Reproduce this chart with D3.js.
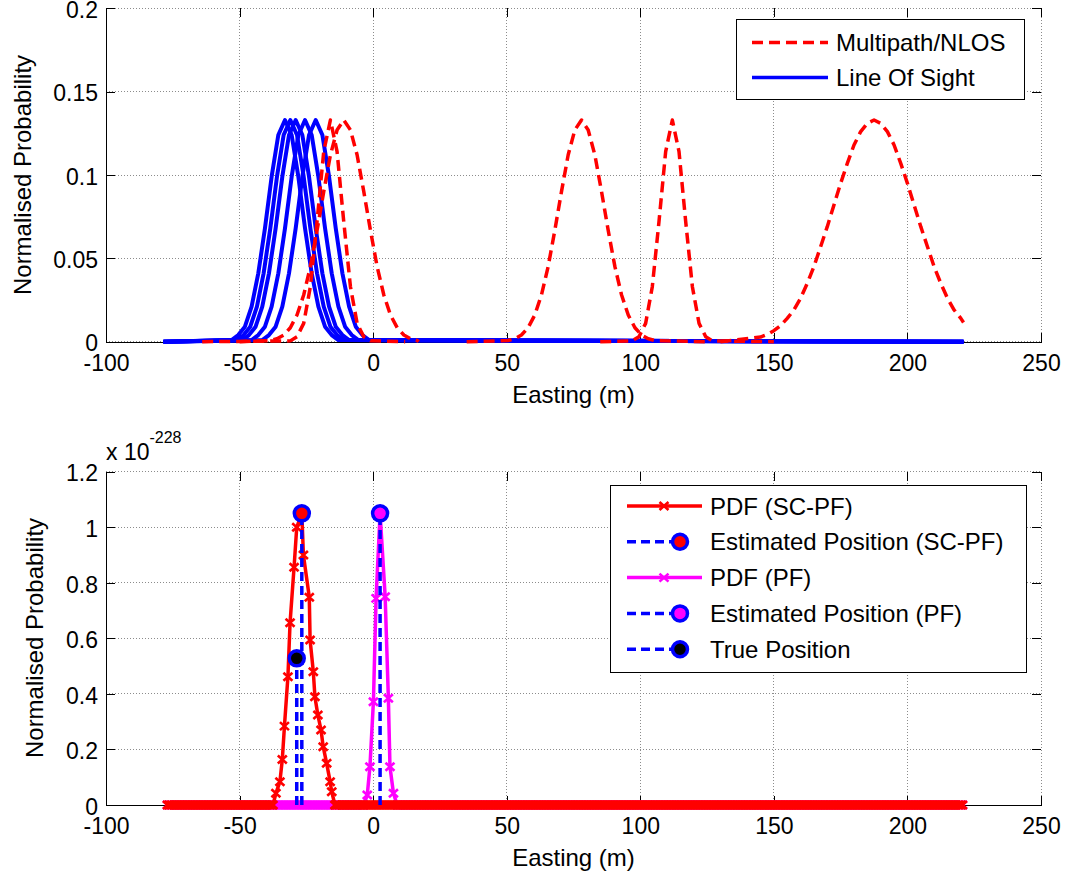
<!DOCTYPE html>
<html>
<head>
<meta charset="utf-8">
<script src="https://cdn.jsdelivr.net/npm/d3@7.9.0/dist/d3.min.js"></script>
<style>
  body { margin: 0; background: #fff; }
  svg { display: block; font-family: "Liberation Sans", Arial, Helvetica, sans-serif; }
</style>
</head>
<body>
<svg id="chart" width="1067" height="878"></svg>
<script>
// ========== Data ==========

const xTicks = [-100, -50, 0, 50, 100, 150, 200, 250];
const probTicks = [0, 0.05, 0.1, 0.15, 0.2];
const pdfTicks = [0, 0.2, 0.4, 0.6, 0.8, 1, 1.2];

// top panel - line of sight traces, all share one profile read every 2.5 m
const losPeak = [-33, -31, -29, -25.5, -21.5];
const losProfile = [0.001, 0.004, 0.009, 0.021, 0.041, 0.068, 0.099, 0.124, 0.133,
  0.124, 0.099, 0.068, 0.041, 0.021, 0.009, 0.004, 0.001];
const losRange = [-78.5, 221];

// top panel - multipath / NLOS traces, bump values every 2.5 m from nlosStart
const nlosStart = [-31, -38.5, 50.5, 97, 145];
const nlosRange = [[-64, 12], [-50, 17], [35, 125], [85, 150], [130, 221]];
const nlosEnd = [0, 0, 0, 0, 0.0115];
const nlos1 = [0.0005, 0.003, 0.011, 0.033, 0.072, 0.114, 0.133, 0.114, 0.072, 0.033, 0.011, 0.003, 0.0005];
const nlos2 = [0.0007, 0.0018, 0.004, 0.0084, 0.016, 0.028, 0.045, 0.0667, 0.09, 0.112, 0.127, 0.133,
  0.127, 0.112, 0.09, 0.0667, 0.045, 0.028, 0.016, 0.0084, 0.004, 0.0018, 0.0007];
const nlos3 = [0.0007, 0.0018, 0.004, 0.0084, 0.016, 0.028, 0.045, 0.0667, 0.09, 0.112, 0.127, 0.133,
  0.127, 0.112, 0.09, 0.0667, 0.045, 0.028, 0.016, 0.0084, 0.004, 0.0018, 0.0007];
const nlos4 = [0.0005, 0.003, 0.011, 0.033, 0.072, 0.114, 0.133, 0.114, 0.072, 0.033, 0.011, 0.003, 0.0005];
const nlos5 = [0.0028, 0.0043, 0.0066, 0.0097, 0.014, 0.019, 0.026, 0.035, 0.045, 0.057, 0.069, 0.082,
  0.095, 0.107, 0.118, 0.126, 0.131, 0.133, 0.131, 0.126, 0.118, 0.107, 0.095, 0.082, 0.069, 0.057,
  0.045, 0.035, 0.026, 0.019, 0.014];
const nlosValues = [nlos1, nlos2, nlos3, nlos4, nlos5];

// bottom panel - particle PDFs (x 10^-228)
const scpfX = [-37.5, -36.4, -34.9, -34.0, -33.2, -31.9, -31.1, -29.6, -28.6, -26.7, -26.1,
  -23.9, -23.6, -22.4, -21.8, -20.7, -19.5, -18.7, -17.4, -16.1, -15.5, -14.3];
const scpfY = [0, 0.042, 0.084, 0.164, 0.284, 0.462, 0.656, 0.856, 1.0, 1.05, 0.9,
  0.748, 0.594, 0.48, 0.39, 0.324, 0.27, 0.21, 0.15, 0.084, 0.048, 0];
const pfX = [-3.5, -2.2, -1.2, 0.1, 1.1, 2.6, 4.5, 5.7, 6.3, 7.6, 9];
const pfY = [0, 0.036, 0.138, 0.372, 0.744, 1.05, 0.75, 0.384, 0.138, 0.042, 0];
// remaining particles sit at zero across the whole span
const particleRange = [-77, 221];
const particleGap = 0.6;

// estimated / true positions
const markX = [-26.7, 2.6, -28.6];
const markY = [1.05, 1.05, 0.528];

const topLegend = ['Multipath/NLOS', 'Line Of Sight'];
const botLegend = ['PDF (SC-PF)', 'Estimated Position (SC-PF)', 'PDF (PF)',
  'Estimated Position (PF)', 'True Position'];

// ========== Scales ==========

const svg = d3.select('#chart');
const x = d3.scaleLinear().domain([-100, 250]).range([106, 1041]);
const yTop = d3.scaleLinear().domain([0, 0.2]).range([341.7, 8.3]);
const yBot = d3.scaleLinear().domain([0, 1.2]).range([805, 471.7]);

const RED = '#ff0000', BLUE = '#0000ff', MAG = '#ff00ff';
const xMark = 'M-4.5,-4L4.5,4M-4.5,4L4.5,-4';

// ========== Frame (grid, axes, labels) ==========

function drawFrame(y, yTicks, labelBaseX, labelY) {
  const g = svg.append('g');
  const [y0, y1] = y.range();

  // dotted grid
  g.selectAll('.gx').data(xTicks).join('line')
    .attr('x1', d => x(d)).attr('x2', d => x(d))
    .attr('y1', y0).attr('y2', y1)
    .attr('stroke', '#8c8c8c').attr('stroke-dasharray', '1,2')
    .attr('shape-rendering', 'crispEdges');
  g.selectAll('.gy').data(yTicks).join('line')
    .attr('x1', x(-100)).attr('x2', x(250))
    .attr('y1', d => y(d)).attr('y2', d => y(d))
    .attr('stroke', '#8c8c8c').attr('stroke-dasharray', '1,2')
    .attr('shape-rendering', 'crispEdges');

  const fmt = d => String(d);
  g.append('g').attr('transform', `translate(0,${y0})`)
    .call(d3.axisBottom(x).tickValues(xTicks).tickFormat(fmt)
      .tickSizeInner(-9).tickSizeOuter(0).tickPadding(13));
  g.append('g').attr('transform', `translate(${x(-100)},0)`)
    .call(d3.axisLeft(y).tickValues(yTicks).tickFormat(fmt)
      .tickSizeInner(-9).tickSizeOuter(0).tickPadding(8))
    .selectAll('text').attr('dy', '0.4em');
  const topAx = g.append('g').attr('transform', `translate(0,${y1})`)
    .call(d3.axisTop(x).tickValues(xTicks).tickFormat('').tickSizeInner(-9).tickSizeOuter(0));
  const rightAx = g.append('g').attr('transform', `translate(${x(250)},0)`)
    .call(d3.axisRight(y).tickValues(yTicks).tickFormat('').tickSizeInner(-9).tickSizeOuter(0));
  topAx.select('.domain').remove();
  rightAx.select('.domain').remove();

  g.selectAll('.tick text').attr('font-size', 23).attr('fill', '#000')
    .attr('font-family', '"Liberation Sans", Arial, sans-serif');
  g.selectAll('.domain, .tick line').attr('stroke', '#000').attr('shape-rendering', 'crispEdges');

  g.append('text')
    .attr('x', (x(-100) + x(250)) / 2).attr('y', y0 + 61)
    .attr('text-anchor', 'middle').attr('font-size', 24)
    .text('Easting (m)');
  g.append('text')
    .attr('transform', `translate(${labelBaseX},${labelY}) rotate(-90)`)
    .attr('text-anchor', 'middle').attr('font-size', 24)
    .text('Normalised Probability');
}

drawFrame(yTop, probTicks, 31, 175);
drawFrame(yBot, pdfTicks, 43, 638);

// exponent note
const expo = svg.append('text').attr('x', 106).attr('y', 460).attr('font-size', 23);
expo.append('tspan').text('x 10');
expo.append('tspan').attr('font-size', 16).attr('dy', -17).text('-228');

// ========== Top panel ==========

const lineTop = d3.line().x(d => x(d[0])).y(d => yTop(d[1]));

const losPts = losPeak.map(p => [
  [losRange[0], 0],
  ...losProfile.map((v, i) => [p - 20 + i * 2.5, v]),
  [losRange[1], 0]
]);
const nlosPts = nlosValues.map((vals, k) => [
  [nlosRange[k][0], 0],
  ...vals.map((v, i) => [nlosStart[k] + i * 2.5, v]),
  [nlosRange[k][1], nlosEnd[k]]
]);

svg.append('g').selectAll('path').data(losPts).join('path')
  .attr('d', lineTop).attr('fill', 'none')
  .attr('stroke', BLUE).attr('stroke-width', 4).attr('stroke-linejoin', 'round');

svg.append('g').selectAll('path').data(nlosPts).join('path')
  .attr('d', lineTop).attr('fill', 'none')
  .attr('stroke', RED).attr('stroke-width', 3.5)
  .attr('stroke-dasharray', '11,6').attr('stroke-linejoin', 'round');

// top legend
const lt = svg.append('g');
lt.append('rect').attr('x', 736.5).attr('y', 19.5).attr('width', 288).attr('height', 80)
  .attr('fill', '#fff').attr('stroke', '#000');
topLegend.forEach((label, i) => {
  const yy = 42.5 + i * 35;
  lt.append('line').attr('x1', 752).attr('x2', 828).attr('y1', yy).attr('y2', yy)
    .attr('stroke', i === 0 ? RED : BLUE).attr('stroke-width', 3.5)
    .attr('stroke-dasharray', i === 0 ? '11,6' : null);
  lt.append('text').attr('x', 836).attr('y', yy).attr('dy', '0.36em')
    .attr('font-size', 24).text(label);
});

// ========== Bottom panel ==========

const lineBot = d3.line().x(d => x(d[0])).y(d => yBot(d[1]));

function withBase(px, py) {
  const lo = px[0], hi = px[px.length - 1];
  const base = d3.range(particleRange[0], particleRange[1] + 0.01, particleGap)
    .filter(v => v < lo || v > hi)
    .map(v => [v, 0]);
  return base.concat(px.map((v, i) => [v, py[i]])).sort((a, b) => a[0] - b[0]);
}

const pfPts = withBase(pfX, pfY);
const scpfPts = withBase(scpfX, scpfY);

function drawPdf(pts, color) {
  const g = svg.append('g');
  g.append('path').datum(pts).attr('d', lineBot).attr('fill', 'none')
    .attr('stroke', color).attr('stroke-width', 3.5).attr('stroke-linejoin', 'round');
  g.selectAll('path.m').data(pts).join('path').attr('class', 'm')
    .attr('transform', d => `translate(${x(d[0])},${yBot(d[1])})`)
    .attr('d', xMark).attr('fill', 'none').attr('stroke', color).attr('stroke-width', 2.6);
}

drawPdf(pfPts, MAG);
drawPdf(scpfPts, RED);

// stems for estimated / true positions
const markFill = [RED, MAG, '#000'];
const stems = svg.append('g');
markX.forEach((mx, i) => {
  stems.append('line')
    .attr('x1', x(mx)).attr('x2', x(mx)).attr('y1', yBot(0)).attr('y2', yBot(markY[i]))
    .attr('stroke', BLUE).attr('stroke-width', 3.5).attr('stroke-dasharray', '9,5');
});
markX.forEach((mx, i) => {
  stems.append('circle').attr('cx', x(mx)).attr('cy', yBot(markY[i])).attr('r', 7.5)
    .attr('fill', markFill[i]).attr('stroke', BLUE).attr('stroke-width', 3.5);
});

// bottom legend
const lb = svg.append('g');
lb.append('rect').attr('x', 610.5).attr('y', 485.5).attr('width', 416).attr('height', 187)
  .attr('fill', '#fff').attr('stroke', '#000');
const legColor = [RED, BLUE, MAG, BLUE, BLUE];
const legFill = [null, RED, null, MAG, '#000'];
botLegend.forEach((label, i) => {
  const yy = 506 + i * 35.8;
  const isPdf = legFill[i] === null;
  lb.append('line').attr('x1', 627).attr('x2', isPdf ? 702 : 680).attr('y1', yy).attr('y2', yy)
    .attr('stroke', legColor[i]).attr('stroke-width', 3.5)
    .attr('stroke-dasharray', isPdf ? null : '9,5');
  if (isPdf) {
    lb.append('path').attr('transform', `translate(664,${yy})`).attr('d', xMark)
      .attr('fill', 'none').attr('stroke', legColor[i]).attr('stroke-width', 2.6);
  } else {
    lb.append('circle').attr('cx', 680).attr('cy', yy).attr('r', 7.5)
      .attr('fill', legFill[i]).attr('stroke', BLUE).attr('stroke-width', 3.5);
  }
  lb.append('text').attr('x', 710).attr('y', yy).attr('dy', '0.36em')
    .attr('font-size', 24).text(label);
});
</script>
</body>
</html>
